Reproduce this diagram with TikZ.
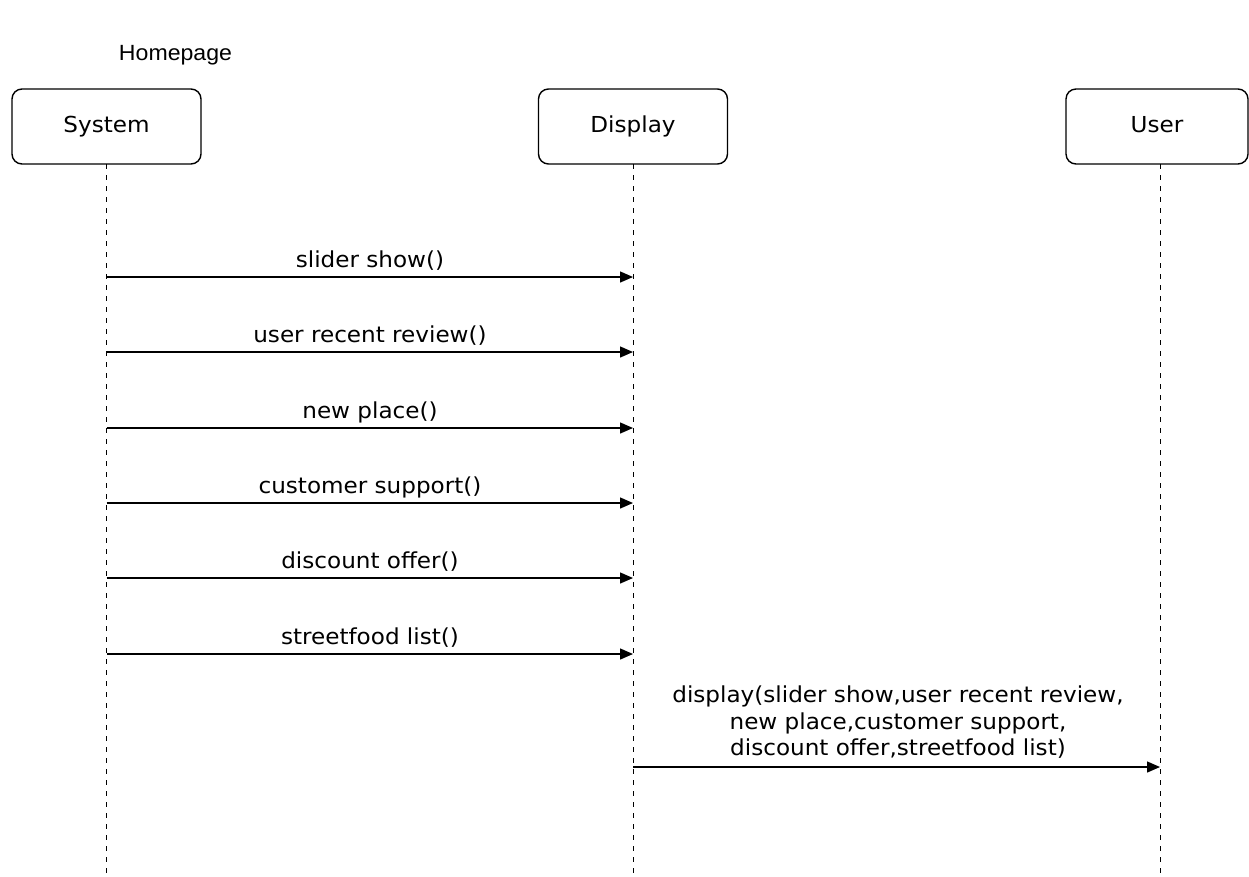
\documentclass[tikz,border=0pt]{standalone}
\usepackage{fontspec}
\setmainfont{DejaVu Sans}[FakeStretch=1.05]
\newfontfamily\homefont{Liberation Sans}[FakeStretch=1.05]
\usetikzlibrary{arrows.meta}
\begin{document}
\begin{tikzpicture}[x=1pt,y=-1pt,
  actor/.style={draw, line width=1.4pt, rounded corners=10pt, minimum width=189pt,
    minimum height=75pt, inner sep=0pt, text height=16pt, text depth=4pt,
    font=\fontsize{22}{26.5}\selectfont},
  life/.style={line width=1pt, dash pattern=on 4.5pt off 6.5pt},
  msg/.style={line width=1.4pt, -{Triangle[length=13pt,width=11pt]}},
  lbl/.style={font=\fontsize{22}{26.5}\selectfont, anchor=base, inner sep=0pt},
  title/.style={font=\homefont\fontsize{22}{26.5}\selectfont, anchor=base, inner sep=0pt}]
\useasboundingbox (0,0) rectangle (1249,876);

\node[title] (home) at (175.5,60) {Homepage};

\node[actor] (sys) at (106.5,126.5) {System};
\node[actor] (disp) at (633,126.5) {Display};
\node[actor, minimum width=182pt] (usr) at (1157,126.5) {User};

\coordinate (sysTop) at (106.5,164);
\coordinate (dispTop) at (633,164);
\coordinate (usrTop) at (1160,164);
\coordinate (sysEnd) at (106.5,876);
\coordinate (dispEnd) at (633,876);
\coordinate (usrEnd) at (1160,876);
\draw[life] (sysTop) -- (sysEnd);
\draw[life] (dispTop) -- (dispEnd);
\draw[life] (usrTop) -- (usrEnd);

\foreach \y/\t [count=\i] in {277/slider show(), 352/user recent review(), 428/new place(),
    503/customer support(), 578/discount offer(), 654/streetfood list()} {
  \coordinate (s\i) at (106.5,\y);
  \coordinate (d\i) at (633,\y);
  \draw[msg] (s\i) -- (d\i);
  \node[lbl] (m\i) at (370,\y-10) {\t};
}

\coordinate (d7) at (633,767);
\coordinate (u7) at (1160,767);
\draw[msg] (d7) -- (u7);
\node[lbl, anchor=south, align=center] (m7) at (898,759)
  {display(slider show,user recent review,\\new place,customer support,\\discount offer,streetfood list)};
\end{tikzpicture}
\end{document}
